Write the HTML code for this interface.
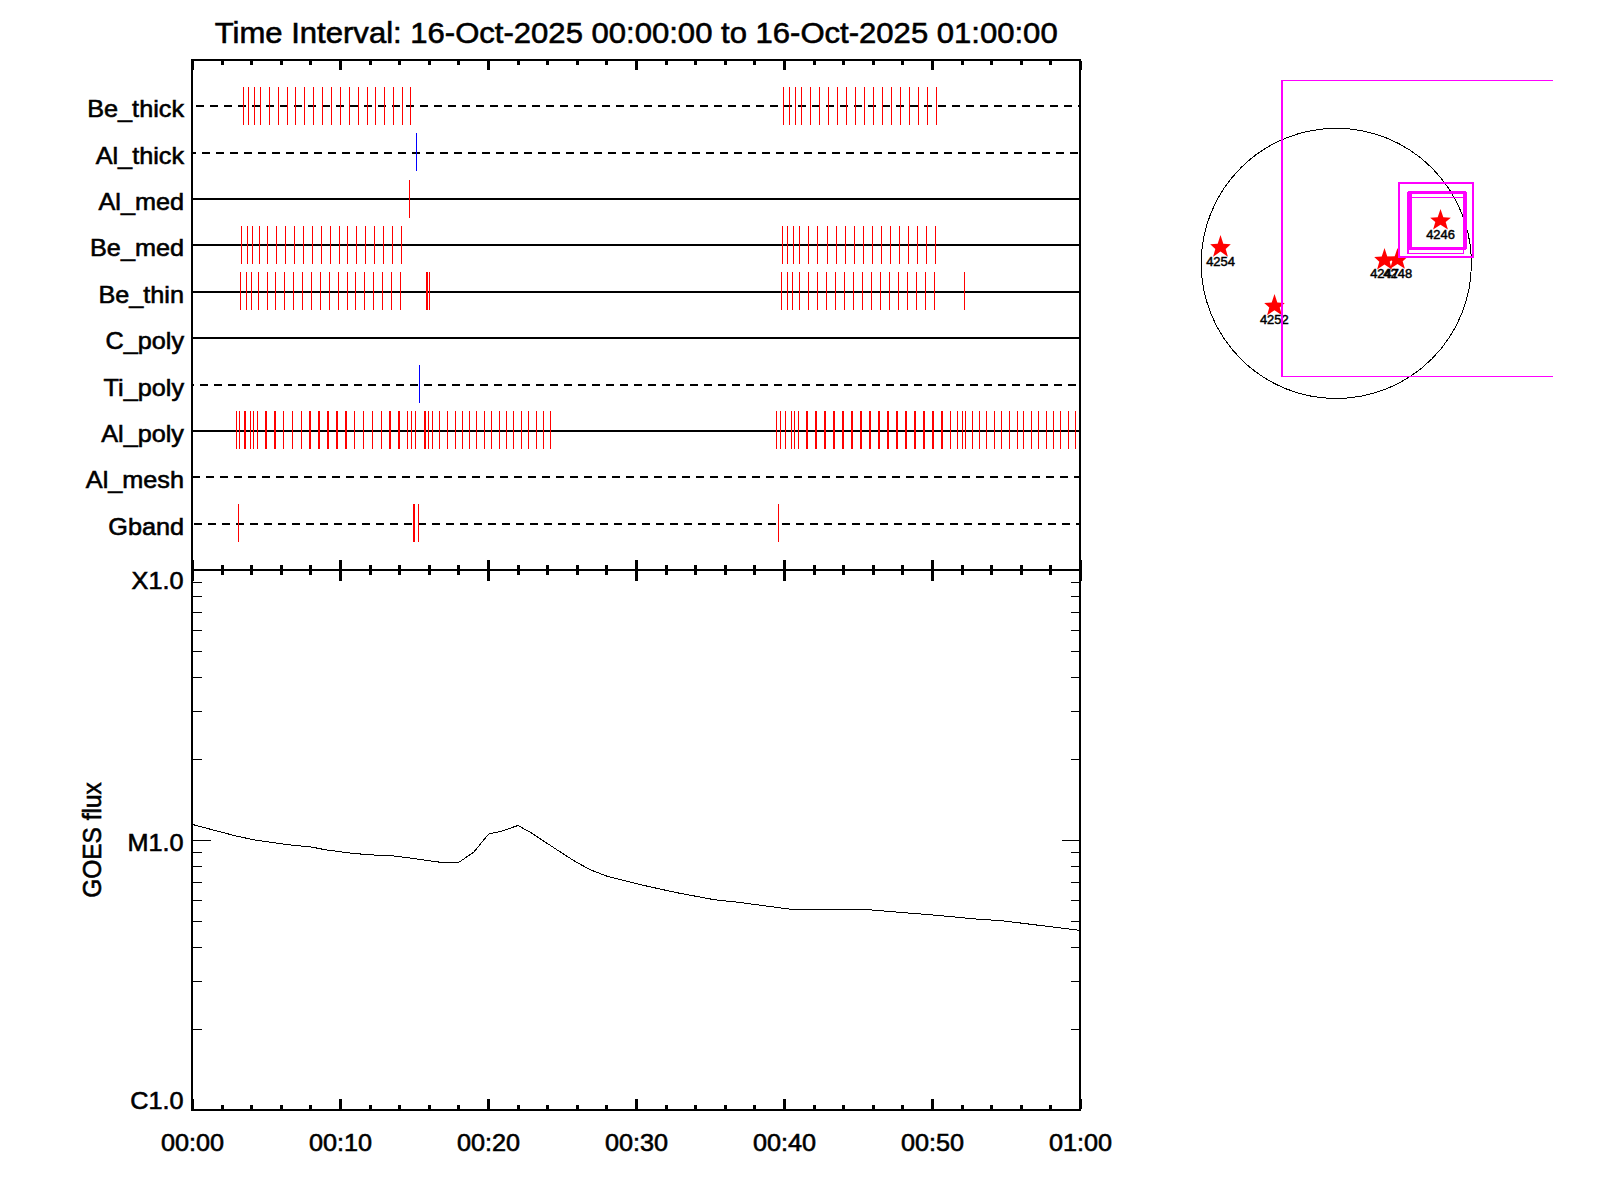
<!DOCTYPE html>
<html lang="en"><head><meta charset="utf-8"><title>Time Interval: 16-Oct-2025 00:00:00 to 16-Oct-2025 01:00:00</title>
<style>html,body{margin:0;padding:0;background:#fff;}svg{display:block}text{font-family:"Liberation Sans",sans-serif;fill:#000}</style></head><body>
<svg width="1600" height="1200" viewBox="0 0 1600 1200">
<rect width="1600" height="1200" fill="#fff"/>
<text transform="translate(636.2,43) scale(1.022,1)" font-size="30.4" text-anchor="middle" stroke="#000" stroke-width="0.6">Time Interval: 16-Oct-2025 00:00:00 to 16-Oct-2025 01:00:00</text>
<g shape-rendering="crispEdges" stroke="#000" stroke-width="2" fill="none">
<path d="M196 106H204M210 106H218M224 106H232M238 106H246M252 106H260M266 106H274M280 106H288M294 106H302M308 106H316M322 106H330M336 106H344M350 106H358M364 106H372M378 106H386M392 106H400M406 106H414M420 106H428M434 106H442M448 106H456M462 106H470M476 106H484M490 106H498M504 106H512M518 106H526M532 106H540M546 106H554M560 106H568M574 106H582M588 106H596M602 106H610M616 106H624M630 106H638M644 106H652M658 106H666M672 106H680M686 106H694M700 106H708M714 106H722M728 106H736M742 106H750M756 106H764M770 106H778M784 106H792M798 106H806M812 106H820M826 106H834M840 106H848M854 106H862M868 106H876M882 106H890M896 106H904M910 106H918M924 106H932M938 106H946M952 106H960M966 106H974M980 106H988M994 106H1002M1008 106H1016M1022 106H1030M1036 106H1044M1050 106H1058M1064 106H1072M1078 106H1079"/>
<path d="M193 153H196M202 153H210M216 153H224M230 153H238M244 153H252M258 153H266M272 153H280M286 153H294M300 153H308M314 153H322M328 153H336M342 153H350M356 153H364M370 153H378M384 153H392M398 153H406M412 153H420M426 153H434M440 153H448M454 153H462M468 153H476M482 153H490M496 153H504M510 153H518M524 153H532M538 153H546M552 153H560M566 153H574M580 153H588M594 153H602M608 153H616M622 153H630M636 153H644M650 153H658M664 153H672M678 153H686M692 153H700M706 153H714M720 153H728M734 153H742M748 153H756M762 153H770M776 153H784M790 153H798M804 153H812M818 153H826M832 153H840M846 153H854M860 153H868M874 153H882M888 153H896M902 153H910M916 153H924M930 153H938M944 153H952M958 153H966M972 153H980M986 153H994M1000 153H1008M1014 153H1022M1028 153H1036M1042 153H1050M1056 153H1064M1070 153H1078"/>
<line x1="192" y1="199" x2="1080" y2="199"/>
<line x1="192" y1="245" x2="1080" y2="245"/>
<line x1="192" y1="292" x2="1080" y2="292"/>
<line x1="192" y1="338" x2="1080" y2="338"/>
<path d="M193 385H194M200 385H208M214 385H222M228 385H236M242 385H250M256 385H264M270 385H278M284 385H292M298 385H306M312 385H320M326 385H334M340 385H348M354 385H362M368 385H376M382 385H390M396 385H404M410 385H418M424 385H432M438 385H446M452 385H460M466 385H474M480 385H488M494 385H502M508 385H516M522 385H530M536 385H544M550 385H558M564 385H572M578 385H586M592 385H600M606 385H614M620 385H628M634 385H642M648 385H656M662 385H670M676 385H684M690 385H698M704 385H712M718 385H726M732 385H740M746 385H754M760 385H768M774 385H782M788 385H796M802 385H810M816 385H824M830 385H838M844 385H852M858 385H866M872 385H880M886 385H894M900 385H908M914 385H922M928 385H936M942 385H950M956 385H964M970 385H978M984 385H992M998 385H1006M1012 385H1020M1026 385H1034M1040 385H1048M1054 385H1062M1068 385H1076"/>
<line x1="192" y1="431" x2="1080" y2="431"/>
<path d="M193 477H200M206 477H214M220 477H228M234 477H242M248 477H256M262 477H270M276 477H284M290 477H298M304 477H312M318 477H326M332 477H340M346 477H354M360 477H368M374 477H382M388 477H396M402 477H410M416 477H424M430 477H438M444 477H452M458 477H466M472 477H480M486 477H494M500 477H508M514 477H522M528 477H536M542 477H550M556 477H564M570 477H578M584 477H592M598 477H606M612 477H620M626 477H634M640 477H648M654 477H662M668 477H676M682 477H690M696 477H704M710 477H718M724 477H732M738 477H746M752 477H760M766 477H774M780 477H788M794 477H802M808 477H816M822 477H830M836 477H844M850 477H858M864 477H872M878 477H886M892 477H900M906 477H914M920 477H928M934 477H942M948 477H956M962 477H970M976 477H984M990 477H998M1004 477H1012M1018 477H1026M1032 477H1040M1046 477H1054M1060 477H1068M1074 477H1079"/>
<path d="M194 524H202M208 524H216M222 524H230M236 524H244M250 524H258M264 524H272M278 524H286M292 524H300M306 524H314M320 524H328M334 524H342M348 524H356M362 524H370M376 524H384M390 524H398M404 524H412M418 524H426M432 524H440M446 524H454M460 524H468M474 524H482M488 524H496M502 524H510M516 524H524M530 524H538M544 524H552M558 524H566M572 524H580M586 524H594M600 524H608M614 524H622M628 524H636M642 524H650M656 524H664M670 524H678M684 524H692M698 524H706M712 524H720M726 524H734M740 524H748M754 524H762M768 524H776M782 524H790M796 524H804M810 524H818M824 524H832M838 524H846M852 524H860M866 524H874M880 524H888M894 524H902M908 524H916M922 524H930M936 524H944M950 524H958M964 524H972M978 524H986M992 524H1000M1006 524H1014M1020 524H1028M1034 524H1042M1048 524H1056M1062 524H1070M1076 524H1079"/>
</g>
<path d="M243 87h1v38h-1zM248 87h1v38h-1zM254 87h1v38h-1zM260 87h1v38h-1zM269 87h1v38h-1zM278 87h1v38h-1zM287 87h1v38h-1zM295 87h1v38h-1zM304 87h1v38h-1zM313 87h1v38h-1zM322 87h1v38h-1zM331 87h1v38h-1zM340 87h1v38h-1zM349 87h1v38h-1zM358 87h1v38h-1zM367 87h1v38h-1zM375 87h1v38h-1zM384 87h1v38h-1zM393 87h1v38h-1zM402 87h1v38h-1zM410 87h1v38h-1zM783 87h1v38h-1zM789 87h1v38h-1zM795 87h1v38h-1zM801 87h1v38h-1zM810 87h1v38h-1zM819 87h1v38h-1zM828 87h1v38h-1zM837 87h1v38h-1zM846 87h1v38h-1zM855 87h1v38h-1zM864 87h1v38h-1zM873 87h1v38h-1zM882 87h1v38h-1zM891 87h1v38h-1zM900 87h1v38h-1zM909 87h1v38h-1zM918 87h1v38h-1zM927 87h1v38h-1zM936 87h1v38h-1z" fill="#f00" shape-rendering="crispEdges"/>
<path d="M416 133h1v38h-1z" fill="#00f" shape-rendering="crispEdges"/>
<path d="M409 180h1v38h-1z" fill="#f00" shape-rendering="crispEdges"/>
<path d="M241 226h1v38h-1zM247 226h1v38h-1zM252 226h1v38h-1zM259 226h1v38h-1zM267 226h1v38h-1zM276 226h1v38h-1zM285 226h1v38h-1zM294 226h1v38h-1zM303 226h1v38h-1zM312 226h1v38h-1zM321 226h1v38h-1zM330 226h1v38h-1zM339 226h1v38h-1zM347 226h1v38h-1zM356 226h1v38h-1zM365 226h1v38h-1zM374 226h1v38h-1zM383 226h1v38h-1zM392 226h1v38h-1zM401 226h1v38h-1zM782 226h1v38h-1zM787 226h1v38h-1zM793 226h1v38h-1zM799 226h1v38h-1zM808 226h1v38h-1zM817 226h1v38h-1zM827 226h1v38h-1zM836 226h1v38h-1zM845 226h1v38h-1zM854 226h1v38h-1zM863 226h1v38h-1zM872 226h1v38h-1zM881 226h1v38h-1zM890 226h1v38h-1zM899 226h1v38h-1zM908 226h1v38h-1zM917 226h1v38h-1zM926 226h1v38h-1zM935 226h1v38h-1z" fill="#f00" shape-rendering="crispEdges"/>
<path d="M240 272h1v38h-1zM246 272h1v38h-1zM251 272h1v38h-1zM258 272h1v38h-1zM267 272h1v38h-1zM275 272h1v38h-1zM284 272h1v38h-1zM293 272h1v38h-1zM302 272h1v38h-1zM311 272h1v38h-1zM320 272h1v38h-1zM329 272h1v38h-1zM338 272h1v38h-1zM347 272h1v38h-1zM355 272h1v38h-1zM364 272h1v38h-1zM373 272h1v38h-1zM382 272h1v38h-1zM391 272h1v38h-1zM400 272h1v38h-1zM426 272h2v38h-2zM429 272h1v38h-1zM781 272h1v38h-1zM787 272h1v38h-1zM792 272h1v38h-1zM799 272h1v38h-1zM808 272h1v38h-1zM817 272h1v38h-1zM826 272h1v38h-1zM835 272h1v38h-1zM844 272h1v38h-1zM853 272h1v38h-1zM862 272h1v38h-1zM871 272h1v38h-1zM880 272h1v38h-1zM889 272h1v38h-1zM898 272h1v38h-1zM907 272h1v38h-1zM916 272h1v38h-1zM925 272h1v38h-1zM934 272h1v38h-1zM964 272h1v38h-1z" fill="#f00" shape-rendering="crispEdges"/>
<path d="M419 365h1v38h-1z" fill="#00f" shape-rendering="crispEdges"/>
<path d="M236 411h1v38h-1zM239 411h1v38h-1zM244 411h2v38h-2zM250 411h1v38h-1zM253 411h1v38h-1zM257 411h1v38h-1zM265 411h2v38h-2zM274 411h2v38h-2zM283 411h1v38h-1zM292 411h1v38h-1zM301 411h1v38h-1zM309 411h2v38h-2zM318 411h2v38h-2zM327 411h2v38h-2zM336 411h2v38h-2zM345 411h2v38h-2zM354 411h1v38h-1zM363 411h1v38h-1zM372 411h1v38h-1zM381 411h1v38h-1zM389 411h2v38h-2zM398 411h2v38h-2zM407 411h1v38h-1zM411 411h1v38h-1zM415 411h1v38h-1zM424 411h2v38h-2zM428 411h1v38h-1zM432 411h1v38h-1zM439 411h1v38h-1zM447 411h1v38h-1zM455 411h1v38h-1zM462 411h1v38h-1zM469 411h1v38h-1zM476 411h1v38h-1zM484 411h1v38h-1zM491 411h1v38h-1zM499 411h1v38h-1zM506 411h1v38h-1zM513 411h1v38h-1zM521 411h1v38h-1zM528 411h1v38h-1zM536 411h1v38h-1zM543 411h1v38h-1zM550 411h1v38h-1zM776 411h1v38h-1zM780 411h1v38h-1zM785 411h1v38h-1zM791 411h1v38h-1zM794 411h1v38h-1zM798 411h1v38h-1zM806 411h2v38h-2zM815 411h2v38h-2zM824 411h2v38h-2zM833 411h2v38h-2zM842 411h2v38h-2zM851 411h2v38h-2zM860 411h2v38h-2zM869 411h2v38h-2zM878 411h2v38h-2zM887 411h2v38h-2zM896 411h2v38h-2zM905 411h2v38h-2zM914 411h2v38h-2zM923 411h2v38h-2zM932 411h2v38h-2zM941 411h2v38h-2zM950 411h1v38h-1zM957 411h1v38h-1zM962 411h1v38h-1zM965 411h1v38h-1zM972 411h1v38h-1zM979 411h1v38h-1zM986 411h1v38h-1zM994 411h1v38h-1zM1001 411h1v38h-1zM1009 411h1v38h-1zM1017 411h1v38h-1zM1023 411h1v38h-1zM1031 411h1v38h-1zM1038 411h1v38h-1zM1046 411h1v38h-1zM1053 411h1v38h-1zM1060 411h1v38h-1zM1068 411h1v38h-1zM1075 411h1v38h-1z" fill="#f00" shape-rendering="crispEdges"/>
<path d="M238 504h1v38h-1zM413 504h2v38h-2zM418 504h1v38h-1zM778 504h1v38h-1z" fill="#f00" shape-rendering="crispEdges"/>
<g shape-rendering="crispEdges" stroke="#000" stroke-width="2" fill="none">
<path d="M192 59V1111M1080 59V1111M191 60H1081M191 570H1081M191 1110H1081"/>
</g>
<g shape-rendering="crispEdges" fill="#000" stroke="none">
<path d="M191 61h3v9h-3zM191 560h3v21h-3zM191 1099h3v10h-3zM221 61h3v4h-3zM221 565h3v10h-3zM221 1105h3v4h-3zM250 61h3v4h-3zM250 565h3v10h-3zM250 1105h3v4h-3zM280 61h3v4h-3zM280 565h3v10h-3zM280 1105h3v4h-3zM309 61h3v4h-3zM309 565h3v10h-3zM309 1105h3v4h-3zM339 61h3v9h-3zM339 560h3v21h-3zM339 1099h3v10h-3zM369 61h3v4h-3zM369 565h3v10h-3zM369 1105h3v4h-3zM398 61h3v4h-3zM398 565h3v10h-3zM398 1105h3v4h-3zM428 61h3v4h-3zM428 565h3v10h-3zM428 1105h3v4h-3zM457 61h3v4h-3zM457 565h3v10h-3zM457 1105h3v4h-3zM487 61h3v9h-3zM487 560h3v21h-3zM487 1099h3v10h-3zM517 61h3v4h-3zM517 565h3v10h-3zM517 1105h3v4h-3zM546 61h3v4h-3zM546 565h3v10h-3zM546 1105h3v4h-3zM576 61h3v4h-3zM576 565h3v10h-3zM576 1105h3v4h-3zM605 61h3v4h-3zM605 565h3v10h-3zM605 1105h3v4h-3zM635 61h3v9h-3zM635 560h3v21h-3zM635 1099h3v10h-3zM665 61h3v4h-3zM665 565h3v10h-3zM665 1105h3v4h-3zM694 61h3v4h-3zM694 565h3v10h-3zM694 1105h3v4h-3zM724 61h3v4h-3zM724 565h3v10h-3zM724 1105h3v4h-3zM753 61h3v4h-3zM753 565h3v10h-3zM753 1105h3v4h-3zM783 61h3v9h-3zM783 560h3v21h-3zM783 1099h3v10h-3zM813 61h3v4h-3zM813 565h3v10h-3zM813 1105h3v4h-3zM842 61h3v4h-3zM842 565h3v10h-3zM842 1105h3v4h-3zM872 61h3v4h-3zM872 565h3v10h-3zM872 1105h3v4h-3zM901 61h3v4h-3zM901 565h3v10h-3zM901 1105h3v4h-3zM931 61h3v9h-3zM931 560h3v21h-3zM931 1099h3v10h-3zM961 61h3v4h-3zM961 565h3v10h-3zM961 1105h3v4h-3zM990 61h3v4h-3zM990 565h3v10h-3zM990 1105h3v4h-3zM1020 61h3v4h-3zM1020 565h3v10h-3zM1020 1105h3v4h-3zM1049 61h3v4h-3zM1049 565h3v10h-3zM1049 1105h3v4h-3zM1079 61h3v9h-3zM1079 560h3v21h-3zM1079 1099h3v10h-3z"/>
</g>
<g shape-rendering="crispEdges" stroke="#000" stroke-width="1" fill="none">
<path d="M193 840.5h18M1079 840.5h-17M193 759.5h9M1079 759.5h-8M193 711.5h9M1079 711.5h-8M193 677.5h9M1079 677.5h-8M193 651.5h9M1079 651.5h-8M193 630.5h9M1079 630.5h-8M193 612.5h9M1079 612.5h-8M193 596.5h9M1079 596.5h-8M193 582.5h9M1079 582.5h-8M193 1029.5h9M1079 1029.5h-8M193 981.5h9M1079 981.5h-8M193 947.5h9M1079 947.5h-8M193 921.5h9M1079 921.5h-8M193 900.5h9M1079 900.5h-8M193 882.5h9M1079 882.5h-8M193 866.5h9M1079 866.5h-8M193 852.5h9M1079 852.5h-8"/>
</g>
<polyline fill="none" stroke="#000" stroke-width="1" shape-rendering="crispEdges" points="193,824.6 212.5,829.8 236.9,836.2 254.7,839.95 285.6,844.45 311.9,847.1 325,849.7 353.1,853.45 377.5,855.3 391.6,855.7 415,858.7 441.25,862.4 458.75,862.4 473.75,852.1 476,849.5 486.9,836 488.75,834.1 491.75,833.4 501.5,831.1 518,825.5 530.75,832.6 560,851.75 573.75,860.6 590,869.7 607,876.2 638.75,884.3 676.25,892.6 713.75,899.6 740,902.5 792.5,909.5 865.6,909.5 940,915.6 983.75,919.75 998.75,920.3 1046.9,926.3 1079.5,930.3"/>
<text transform="translate(184,116.6) scale(1.03,1)" font-size="24.5" text-anchor="end" stroke="#000" stroke-width="0.6">Be_thick</text>
<text transform="translate(184,163.6) scale(1.03,1)" font-size="24.5" text-anchor="end" stroke="#000" stroke-width="0.6">Al_thick</text>
<text transform="translate(184,209.6) scale(1.03,1)" font-size="24.5" text-anchor="end" stroke="#000" stroke-width="0.6">Al_med</text>
<text transform="translate(184,255.6) scale(1.03,1)" font-size="24.5" text-anchor="end" stroke="#000" stroke-width="0.6">Be_med</text>
<text transform="translate(184,302.6) scale(1.03,1)" font-size="24.5" text-anchor="end" stroke="#000" stroke-width="0.6">Be_thin</text>
<text transform="translate(184,348.6) scale(1.03,1)" font-size="24.5" text-anchor="end" stroke="#000" stroke-width="0.6">C_poly</text>
<text transform="translate(184,395.6) scale(1.03,1)" font-size="24.5" text-anchor="end" stroke="#000" stroke-width="0.6">Ti_poly</text>
<text transform="translate(184,441.6) scale(1.03,1)" font-size="24.5" text-anchor="end" stroke="#000" stroke-width="0.6">Al_poly</text>
<text transform="translate(184,487.6) scale(1.03,1)" font-size="24.5" text-anchor="end" stroke="#000" stroke-width="0.6">Al_mesh</text>
<text transform="translate(184,534.6) scale(1.03,1)" font-size="24.5" text-anchor="end" stroke="#000" stroke-width="0.6">Gband</text>
<text transform="translate(183.5,588.8) scale(1.03,1)" font-size="24.5" text-anchor="end" stroke="#000" stroke-width="0.6">X1.0</text>
<text transform="translate(183.5,850.6) scale(1.03,1)" font-size="24.5" text-anchor="end" stroke="#000" stroke-width="0.6">M1.0</text>
<text transform="translate(183.5,1109) scale(1.03,1)" font-size="24.5" text-anchor="end" stroke="#000" stroke-width="0.6">C1.0</text>
<text transform="translate(192.5,1150.5) scale(1.03,1)" font-size="24.5" text-anchor="middle" stroke="#000" stroke-width="0.6">00:00</text>
<text transform="translate(340.5,1150.5) scale(1.03,1)" font-size="24.5" text-anchor="middle" stroke="#000" stroke-width="0.6">00:10</text>
<text transform="translate(488.5,1150.5) scale(1.03,1)" font-size="24.5" text-anchor="middle" stroke="#000" stroke-width="0.6">00:20</text>
<text transform="translate(636.5,1150.5) scale(1.03,1)" font-size="24.5" text-anchor="middle" stroke="#000" stroke-width="0.6">00:30</text>
<text transform="translate(784.5,1150.5) scale(1.03,1)" font-size="24.5" text-anchor="middle" stroke="#000" stroke-width="0.6">00:40</text>
<text transform="translate(932.5,1150.5) scale(1.03,1)" font-size="24.5" text-anchor="middle" stroke="#000" stroke-width="0.6">00:50</text>
<text transform="translate(1080.5,1150.5) scale(1.03,1)" font-size="24.5" text-anchor="middle" stroke="#000" stroke-width="0.6">01:00</text>
<text transform="translate(101.3,840) rotate(-90) scale(1,1.05)" font-size="24.5" text-anchor="middle" stroke="#000" stroke-width="0.6">GOES flux</text>
<circle cx="1336.3" cy="263.4" r="135.1" fill="none" stroke="#000" stroke-width="1" shape-rendering="crispEdges"/>
<polygon points="1440.5,209.0 1443.3,217.2 1450.8,217.7 1445.7,222.1 1447.9,229.6 1440.5,224.7 1433.1,229.6 1435.3,222.1 1430.2,217.7 1437.7,217.2" fill="#f00"/>
<polygon points="1220.5,235.0 1223.3,243.7 1230.8,244.2 1225.7,248.9 1227.9,256.8 1220.5,251.6 1213.1,256.8 1215.3,248.9 1210.2,244.2 1217.7,243.7" fill="#f00"/>
<polygon points="1274.5,294.0 1277.3,302.5 1284.8,303.0 1279.7,307.5 1281.9,315.2 1274.5,310.2 1267.1,315.2 1269.3,307.5 1264.2,303.0 1271.7,302.5" fill="#f00"/>
<polygon points="1384.5,248.0 1387.3,256.6 1394.8,257.1 1389.7,261.7 1391.9,269.6 1384.5,264.5 1377.1,269.6 1379.3,261.7 1374.2,257.1 1381.7,256.6" fill="#f00"/>
<polygon points="1397.5,248.0 1400.3,256.3 1407.8,256.8 1402.7,261.2 1404.9,268.8 1397.5,263.9 1390.1,268.8 1392.3,261.2 1387.2,256.8 1394.7,256.3" fill="#f00"/>
<text transform="translate(1440.5,239) scale(1.06,1)" font-size="12.2" text-anchor="middle" stroke="#000" stroke-width="0.45">4246</text>
<text transform="translate(1220.5,266) scale(1.06,1)" font-size="12.2" text-anchor="middle" stroke="#000" stroke-width="0.45">4254</text>
<text transform="translate(1274.3,324) scale(1.06,1)" font-size="12.2" text-anchor="middle" stroke="#000" stroke-width="0.45">4252</text>
<text transform="translate(1384.5,278) scale(1.06,1)" font-size="12.2" text-anchor="middle" stroke="#000" stroke-width="0.45">4247</text>
<text transform="translate(1397.7,278) scale(1.06,1)" font-size="12.2" text-anchor="middle" stroke="#000" stroke-width="0.45">4248</text>
<g shape-rendering="crispEdges" fill="#f0f" fill-rule="evenodd" stroke="none">
<path d="M1281 80H1553V81H1283V376H1553V377H1281Z"/>
<path d="M1398 182H1474V258H1398ZM1400 184V256H1472V184Z"/>
<path d="M1412 197H1463V198H1412ZM1407 250H1409V253H1463V250H1464V254H1407Z"/>
<path d="M1408 191H1466V192H1467V249H1466V250H1407V192H1408ZM1412 194V247H1463V194Z"/>
</g>
</svg></body></html>
